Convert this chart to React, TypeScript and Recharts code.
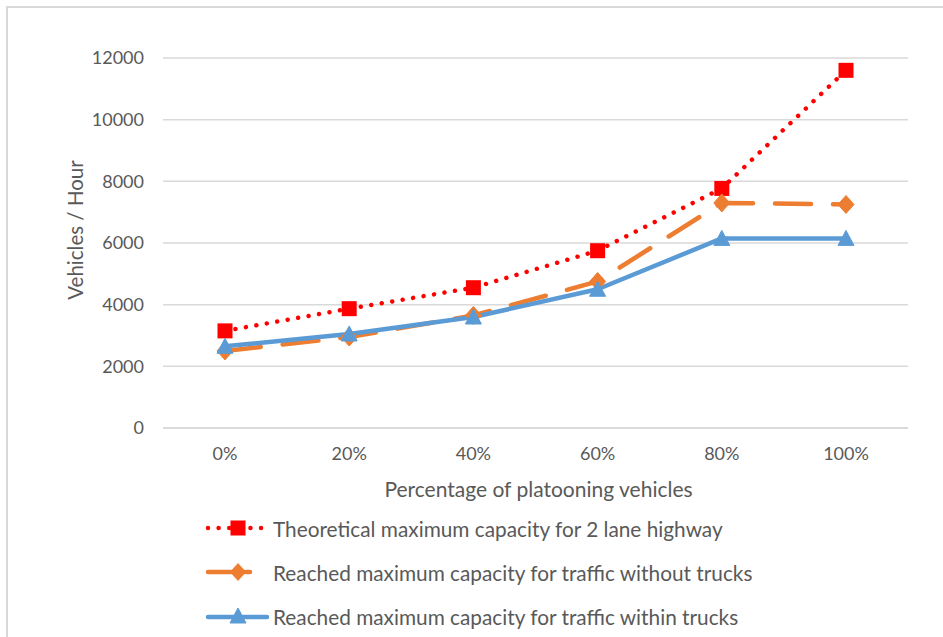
import React from 'react';
import { LineChart, Line, XAxis, YAxis, CartesianGrid } from 'recharts';

const categories = ['0%', '20%', '40%', '60%', '80%', '100%'];
const theoretical = [3150, 3870, 4550, 5750, 7770, 11600];
const withoutTrucks = [2500, 2950, 3650, 4750, 7300, 7250];
const withinTrucks = [2650, 3050, 3600, 4500, 6150, 6150];
const yTicks = [0, 2000, 4000, 6000, 8000, 10000, 12000];

const seriesNames = [
  'Theoretical maximum capacity for 2 lane highway',
  'Reached maximum capacity for traffic without trucks',
  'Reached maximum capacity for traffic within trucks',
];

const RED = '#FF0000';
const ORANGE = '#ED7D31';
const BLUE = '#5B9BD5';
const TEXT = '#595959';
const GRID = '#D9D9D9';
const FONT = 'Lato, "Open Sans", sans-serif';

const data = categories.map((c, i) => ({
  cat: c,
  theoretical: theoretical[i],
  withoutTrucks: withoutTrucks[i],
  withinTrucks: withinTrucks[i],
}));

const SquareDot = (props: any) => {
  const { cx, cy } = props;
  if (cx == null || cy == null) return null;
  return <rect x={cx - 7.5} y={cy - 7.5} width={15} height={15} fill={RED} />;
};
const DiamondDot = (props: any) => {
  const { cx, cy } = props;
  if (cx == null || cy == null) return null;
  return (
    <polygon
      points={`${cx},${cy - 9} ${cx + 8},${cy} ${cx},${cy + 9} ${cx - 8},${cy}`}
      fill={ORANGE}
      stroke={ORANGE}
      strokeWidth={1}
      strokeLinejoin="round"
    />
  );
};
const TriangleDot = (props: any) => {
  const { cx, cy } = props;
  if (cx == null || cy == null) return null;
  return (
    <polygon
      points={`${cx},${cy - 8} ${cx + 8},${cy + 7} ${cx - 8},${cy + 7}`}
      fill={BLUE}
      stroke={BLUE}
      strokeWidth={1}
      strokeLinejoin="round"
    />
  );
};

const XTitle = (props: any) => {
  const vb = props.viewBox || {};
  return (
    <text
      x={vb.x + vb.width / 2 + 3}
      y={vb.y + 60}
      textAnchor="middle"
      dominantBaseline="central"
      fill={TEXT}
      fontSize={21}
      fontFamily={FONT}
    >
      Percentage of platooning vehicles
    </text>
  );
};

const YTitle = (props: any) => {
  const vb = props.viewBox || {};
  const x = 75;
  const y = vb.y + vb.height / 2 - 13;
  return (
    <text
      x={x}
      y={y}
      transform={`rotate(-90 ${x} ${y})`}
      textAnchor="middle"
      dominantBaseline="central"
      fill={TEXT}
      fontSize={20.5}
      fontFamily={FONT}
    >
      Vehicles / Hour
    </text>
  );
};

const LegendIcon = ({ idx }: { idx: number }) => {
  if (idx === 0) {
    return (
      <svg width={66} height={20}>
        <line x1={3} y1={10} x2={62} y2={10} stroke={RED} strokeWidth={4.5} strokeDasharray="0.01 10.6" strokeLinecap="round" />
        <rect x={25.5} y={2.5} width={15} height={15} fill={RED} />
      </svg>
    );
  }
  if (idx === 1) {
    return (
      <svg width={66} height={20}>
        <line x1={3} y1={10} x2={45} y2={10} stroke={ORANGE} strokeWidth={4.5} strokeLinecap="round" />
        <polygon points="33,1 41,10 33,19 25,10" fill={ORANGE} />
      </svg>
    );
  }
  return (
    <svg width={66} height={20}>
      <line x1={3} y1={11} x2={62} y2={11} stroke={BLUE} strokeWidth={4.5} strokeLinecap="round" />
      <polygon points="33,2 41,17 25,17" fill={BLUE} stroke={BLUE} strokeLinejoin="round" />
    </svg>
  );
};

export default function App() {
  const legendCenters = [528, 572, 616];
  return (
    <div style={{ position: 'absolute', left: 0, top: 0, width: 943, height: 637, overflow: 'hidden', background: '#fff' }}>
      <div
        style={{
          position: 'absolute',
          left: 6,
          top: 6,
          width: 980,
          height: 680,
          border: `2px solid ${GRID}`,
          boxSizing: 'border-box',
        }}
      />
      <div style={{ position: 'absolute', left: 0, top: 0 }}>
        <LineChart width={943} height={637} data={data} margin={{ top: 58, right: 35, bottom: 0, left: 0 }}>
          <CartesianGrid vertical={false} stroke={GRID} strokeWidth={1.5} />
          <XAxis
            dataKey="cat"
            height={209}
            padding={{ left: 62, right: 62 }}
            axisLine={{ stroke: GRID, strokeWidth: 1.5 }}
            tickLine={false}
            tickSize={0}
            tickMargin={19}
            tick={{ fill: TEXT, fontSize: 18, fontFamily: FONT }}
            label={<XTitle />}
          />
          <YAxis
            width={163}
            domain={[0, 12000]}
            ticks={yTicks}
            interval={0}
            axisLine={false}
            tickLine={false}
            tickSize={0}
            tickMargin={19}
            tick={{ fill: TEXT, fontSize: 18, fontFamily: FONT }}
            label={<YTitle />}
          />
          <Line
            dataKey="theoretical"
            name={seriesNames[0]}
            stroke={RED}
            strokeWidth={4.5}
            strokeDasharray="0.01 10.6"
            strokeLinecap="round"
            dot={<SquareDot />}
            activeDot={false}
            isAnimationActive={false}
            type="linear"
          />
          <Line
            dataKey="withoutTrucks"
            name={seriesNames[1]}
            stroke={ORANGE}
            strokeWidth={4.5}
            strokeDasharray="36 22"
            strokeLinecap="round"
            dot={<DiamondDot />}
            activeDot={false}
            isAnimationActive={false}
            type="linear"
          />
          <Line
            dataKey="withinTrucks"
            name={seriesNames[2]}
            stroke={BLUE}
            strokeWidth={4.5}
            strokeLinejoin="round"
            dot={<TriangleDot />}
            activeDot={false}
            isAnimationActive={false}
            type="linear"
          />
        </LineChart>
      </div>
      {seriesNames.map((n, i) => (
        <div
          key={n}
          style={{
            position: 'absolute',
            left: 205,
            top: legendCenters[i] - 14,
            height: 28,
            display: 'flex',
            alignItems: 'center',
            whiteSpace: 'nowrap',
          }}
        >
          <LegendIcon idx={i} />
          <span style={{ marginLeft: 2, color: TEXT, fontSize: 20.8, fontFamily: FONT }}>{n}</span>
        </div>
      ))}
    </div>
  );
}
